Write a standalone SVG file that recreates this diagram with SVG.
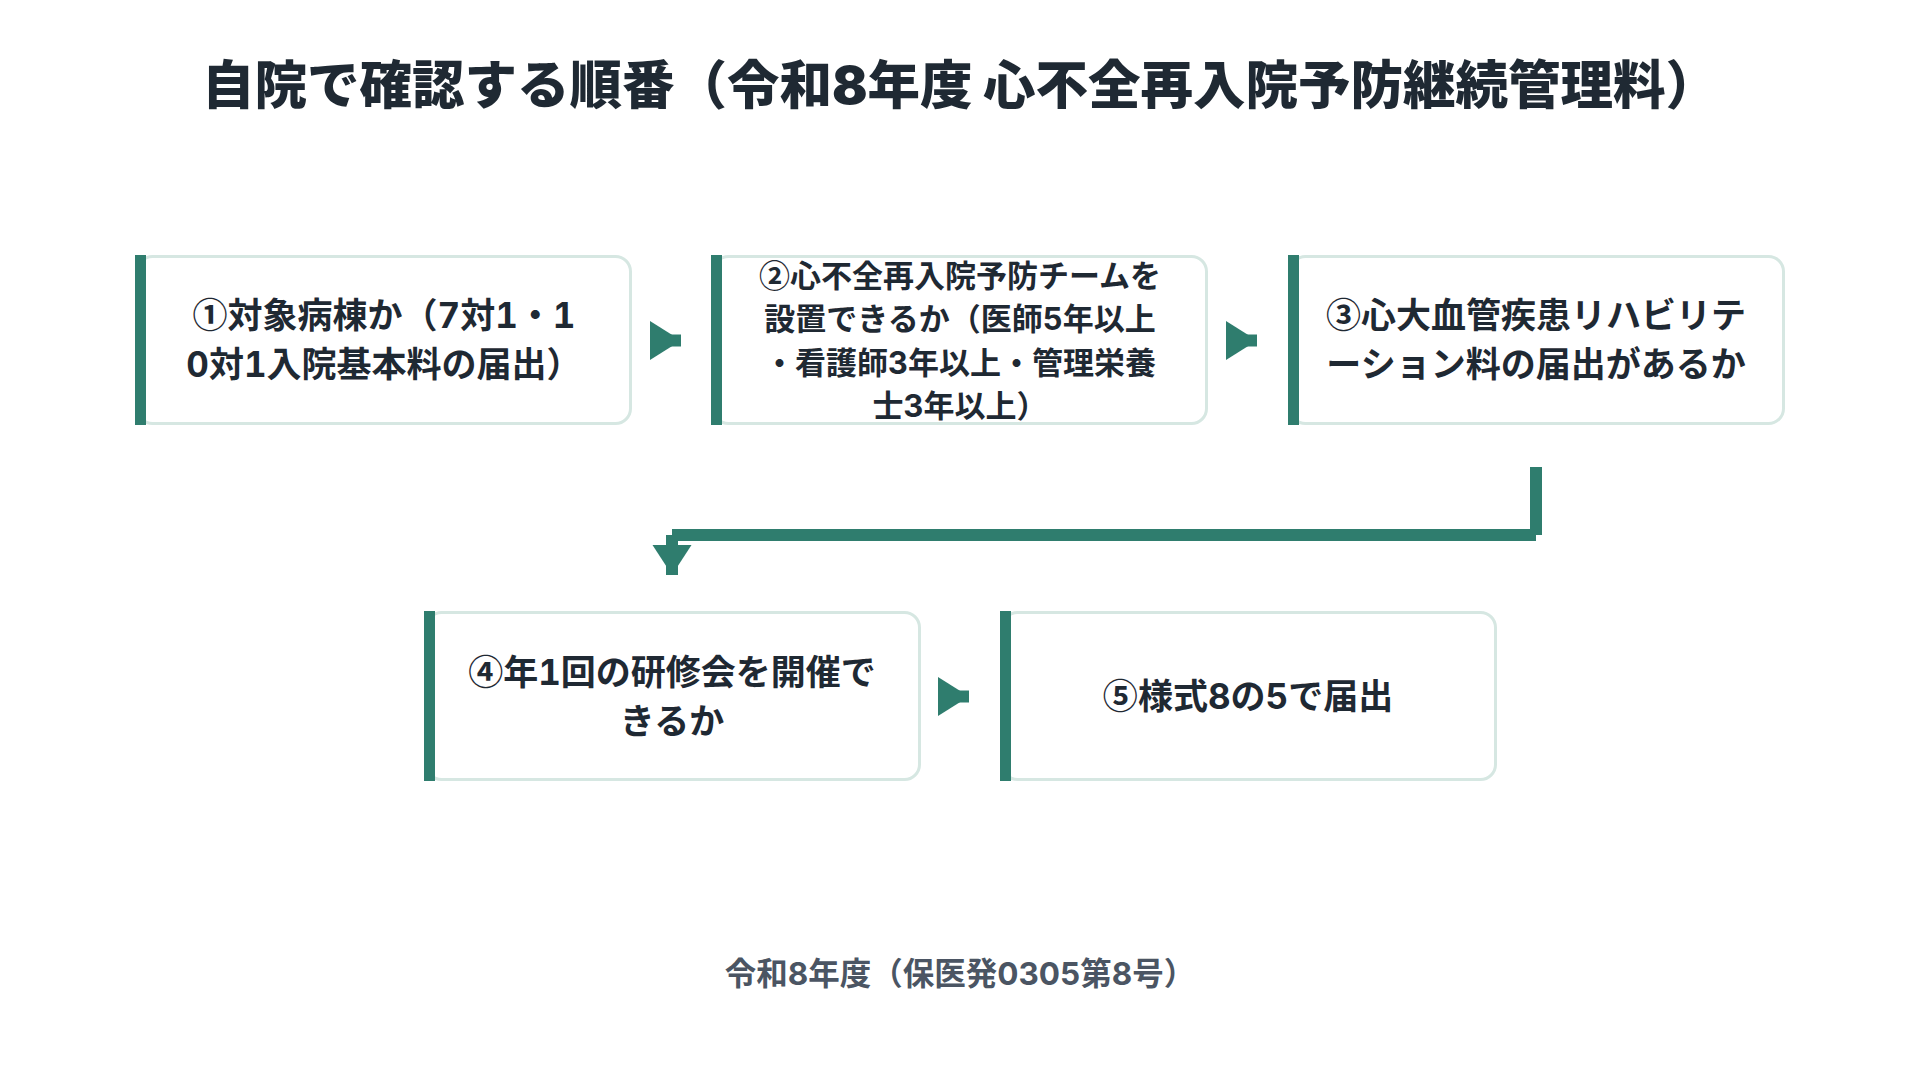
<svg xmlns="http://www.w3.org/2000/svg" width="1920" height="1080" viewBox="0 0 1920 1080">
  <defs>
    <style>
      .box { fill: #ffffff; stroke: #d6e7e2; stroke-width: 3; }
      .bar { fill: #2f7d6e; }
      .txt { font-family: Inter, "Noto Sans CJK JP", sans-serif; font-weight: 700; fill: #1f2933; text-anchor: middle; font-variant-numeric: tabular-nums; font-feature-settings: "tnum" 1; }
      .cjk { font-family: "Noto Sans CJK JP", sans-serif; }
      .t35 { font-size: 35px; }
      .t31 { font-size: 31px; }
      .title { font-family: Inter, "Noto Sans CJK JP", sans-serif; font-weight: 900; font-size: 52.5px; fill: #1f2933; text-anchor: middle; }
      .foot { font-family: Inter, "Noto Sans CJK JP", sans-serif; font-weight: 700; font-size: 31.5px; fill: #4b5563; text-anchor: middle; }
      .line { stroke: #2f7d6e; stroke-width: 12; fill: none; stroke-linecap: butt; }
      .head { fill: #2f7d6e; }
    </style>
  </defs>
  <rect x="0" y="0" width="1920" height="1080" fill="#ffffff"/>

  <text class="title" x="960" y="104">自院で確認する順番（令和8年度 心不全再入院予防継続管理料）</text>

  <g id="node1">
    <rect class="box" x="137.5" y="256.5" width="493" height="167" rx="15"/>
    <rect class="bar" x="135" y="255" width="11" height="170"/>
    <text class="txt t35" x="384"><tspan x="384" y="327.5"><tspan class="cjk">①</tspan>対象病棟か（7対1・1</tspan><tspan x="384" y="376.5">0対1入院基本料の届出）</tspan></text>
  </g>

  <g id="node2">
    <rect class="box" x="713.5" y="256.5" width="493" height="167" rx="15"/>
    <rect class="bar" x="711" y="255" width="11" height="170"/>
    <text class="txt t31" x="960"><tspan x="960" y="286.7"><tspan class="cjk">②</tspan>心不全再入院予防チームを</tspan><tspan x="960" y="330.1">設置できるか（医師5年以上</tspan><tspan x="960" y="373.5">・看護師3年以上・管理栄養</tspan><tspan x="960" y="416.9">士3年以上）</tspan></text>
  </g>

  <g id="node3">
    <rect class="box" x="1290.5" y="256.5" width="493" height="167" rx="15"/>
    <rect class="bar" x="1288" y="255" width="11" height="170"/>
    <text class="txt t35" x="1536"><tspan x="1536" y="327.5"><tspan class="cjk">③</tspan>心大血管疾患リハビリテ</tspan><tspan x="1536" y="376.5">ーション料の届出があるか</tspan></text>
  </g>

  <g id="node4">
    <rect class="box" x="426.5" y="612.5" width="493" height="167" rx="15"/>
    <rect class="bar" x="424" y="611" width="11" height="170"/>
    <text class="txt t35" x="672"><tspan x="672" y="684.5"><tspan class="cjk">④</tspan>年1回の研修会を開催で</tspan><tspan x="672" y="733.5">きるか</tspan></text>
  </g>

  <g id="node5">
    <rect class="box" x="1002.5" y="612.5" width="493" height="167" rx="15"/>
    <rect class="bar" x="1000" y="611" width="11" height="170"/>
    <text class="txt t35" x="1248" y="709"><tspan class="cjk">⑤</tspan>様式8の5で届出</text>
  </g>

  <g id="connectors">
    <line class="line" x1="650" y1="340.5" x2="681" y2="340.5"/>
    <polygon class="head" points="650,321 650,360 681,340.5"/>
    <line class="line" x1="1226" y1="340.5" x2="1257" y2="340.5"/>
    <polygon class="head" points="1226,321 1226,360 1257,340.5"/>
    <line class="line" x1="1536" y1="467" x2="1536" y2="535"/>
    <line class="line" x1="1536" y1="535" x2="672" y2="535"/>
    <line class="line" x1="672" y1="535" x2="672" y2="575"/>
    <polygon class="head" points="652.5,545 691.5,545 672,575"/>
    <line class="line" x1="938" y1="696.5" x2="969" y2="696.5"/>
    <polygon class="head" points="938,677 938,716 969,696.5"/>
  </g>

  <text class="foot" x="960" y="985">令和8年度（保医発0305第8号）</text>
</svg>
